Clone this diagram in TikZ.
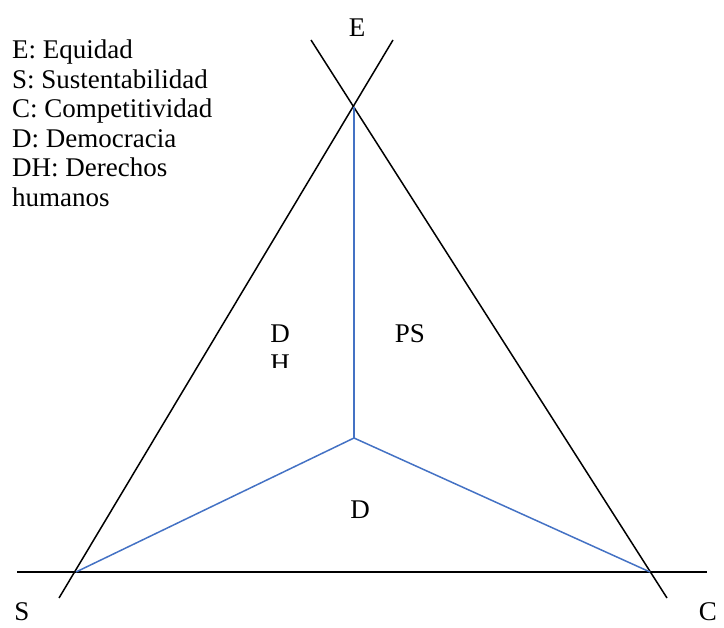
\documentclass[tikz,border=0pt]{standalone}
\usepackage{fontspec}
\setmainfont{Liberation Serif}
\begin{document}
\begin{tikzpicture}[x=1pt,y=-1pt,
  blk/.style={line width=1.5pt,black},
  blu/.style={line width=1.5pt,color={rgb,255:red,68;green,114;blue,196}},
  txt/.style={inner sep=0pt,font=\fontsize{27}{29.5}\selectfont}]
\useasboundingbox (0,0) rectangle (724,628);
% key points
\coordinate (Etop) at (354,107);
\coordinate (Scor) at (76,572);
\coordinate (Ccor) at (650,572);
\coordinate (M) at (354,438);
\coordinate (L1a) at (59,598);
\coordinate (L1b) at (393,40);
\coordinate (L2a) at (311,40);
\coordinate (L2b) at (667,598);
\coordinate (Ha) at (17,572);
\coordinate (Hb) at (707,572);
% black lines
\draw[blk] (L1a) -- (L1b);
\draw[blk] (L2a) -- (L2b);
\draw[blk] (Ha) -- (Hb);
% blue lines
\draw[blu] (Etop) -- (M);
\draw[blu] (Scor) -- (M) -- (Ccor);
% corner labels
\node[txt,anchor=base] (lE) at (357,37) {E};
\node[txt,anchor=base] (lS) at (22,620) {S};
\node[txt,anchor=base] (lC) at (708,620) {C};
% region labels
\node[txt,anchor=base] (lPS) at (410,343) {PS};
\node[txt,anchor=base] (lD) at (360,519) {D};
\node[txt,anchor=base] (lDH) at (280,343) {D};
\begin{scope}
\clip (250,340) rectangle (320,368);
\node[txt,anchor=base] (lH) at (280,372.5) {H};
\end{scope}
% legend
\node[txt,anchor=base west] (k1) at (12,59) {E: Equidad};
\node[txt,anchor=base west] (k2) at (12,88.5) {S: Sustentabilidad};
\node[txt,anchor=base west] (k3) at (12,118) {C: Competitividad};
\node[txt,anchor=base west] (k4) at (12,147.5) {D: Democracia};
\node[txt,anchor=base west] (k5) at (12,177) {DH: Derechos};
\node[txt,anchor=base west] (k6) at (12,206.5) {humanos};
\end{tikzpicture}
\end{document}
